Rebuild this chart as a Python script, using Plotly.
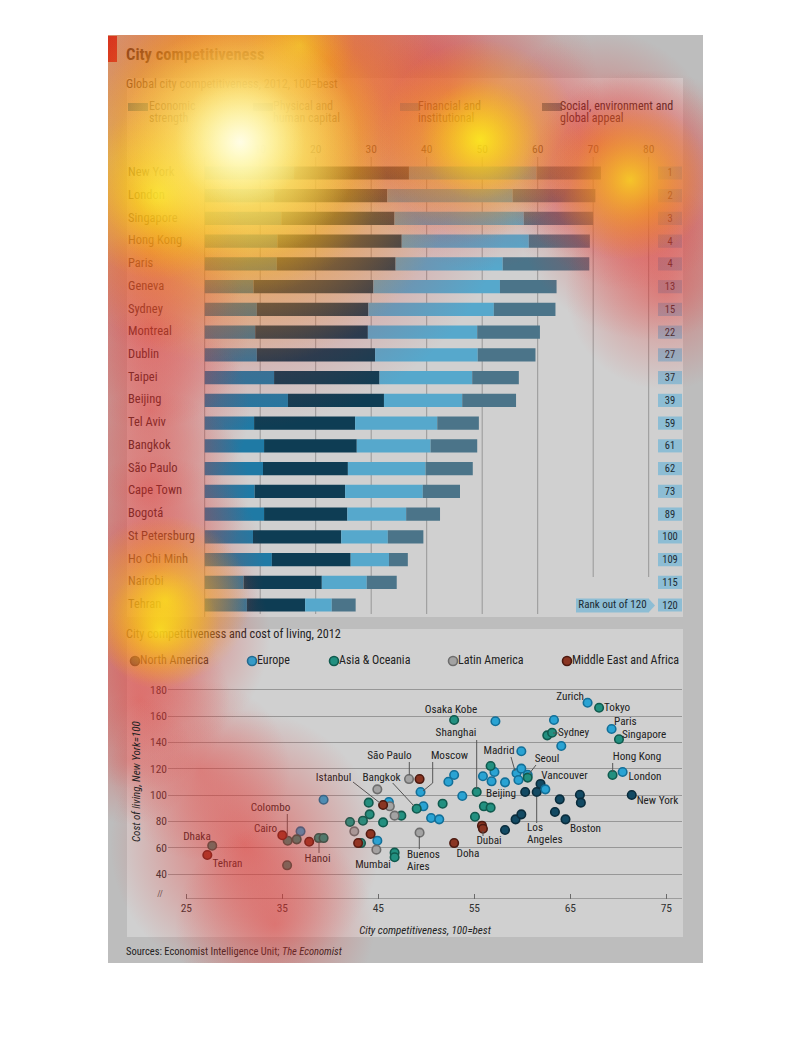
import numpy as np
import plotly.graph_objects as go

W, H = 810, 1058
FONT = "Liberation Sans Narrow, Arial Narrow, Roboto Condensed, Roboto, sans-serif"

# ---------------- bar chart data ----------------
cities = ["New York", "London", "Singapore", "Hong Kong", "Paris", "Geneva", "Sydney",
          "Montreal", "Dublin", "Taipei", "Beijing", "Tel Aviv", "Bangkok", "São Paulo",
          "Cape Town", "Bogotá", "St Petersburg", "Ho Chi Minh", "Nairobi", "Tehran"]
economic = [16.1, 12.5, 13.8, 13.1, 13.0, 8.8, 9.4, 9.1, 9.4, 12.5, 15.0, 8.9, 10.7, 10.5, 9.0, 10.7, 8.7, 12.1, 7.0, 7.6]
physical = [20.7, 20.4, 20.4, 22.4, 21.4, 21.6, 20.1, 20.3, 21.3, 19.0, 17.3, 18.2, 16.7, 15.3, 16.3, 15.0, 15.9, 14.2, 14.1, 10.5]
financial = [23.0, 22.6, 23.3, 22.9, 19.3, 22.8, 22.6, 19.7, 18.5, 16.7, 14.1, 14.8, 13.3, 14.0, 14.0, 10.6, 8.4, 6.9, 8.1, 4.8]
social = [11.6, 14.9, 12.5, 11.0, 15.6, 10.2, 11.1, 11.3, 10.4, 8.4, 9.7, 7.5, 8.4, 8.5, 6.7, 6.1, 6.4, 3.4, 5.4, 4.3]
ranks = [1, 2, 3, 4, 4, 13, 15, 22, 27, 37, 39, 59, 61, 62, 73, 89, 100, 109, 115, 120]
segment_names = ["Economic strength", "Physical and human capital",
                 "Financial and institutional", "Social, environment and global appeal"]
bar_ticks = [10, 20, 30, 40, 50, 60, 70, 80]

# ---------------- scatter data ----------------
na_x = [58.2, 59.3, 59.9, 60.3, 61.5, 61.9, 63.4, 63.9, 64.5, 66.0, 66.1, 71.4]
na_y = [73.4, 81.5, 85.3, 102.3, 102.3, 108.4, 87.1, 96.7, 81.5, 100.2, 94.2, 100.0]
eu_x = [36.9, 39.3, 44.9, 46.1, 49.4, 49.7, 50.5, 51.35, 52.3, 52.9, 53.75, 55.9, 56.8, 57.1, 57.2,
        58.2, 59.4, 59.6, 59.9, 59.9, 60.56, 62.4, 63.3, 64.06, 66.8, 69.3, 70.45]
eu_y = [72.4, 96.4, 65.3, 94.7, 102.3, 91.4, 82.5, 81.5, 110.1, 115.2, 99.2, 114.2, 110.4, 117.5, 156.0,
        109.6, 116.5, 111.4, 120.0, 133.2, 115.4, 104.3, 157.0, 137.2, 170.1, 150.1, 117.5]
as_x = [27.7, 35.56, 35.5, 36.5, 38.8, 39.3, 42.05, 43.2, 43.4, 44.0, 44.1, 45.5, 46.7, 46.7, 47.4,
        49.0, 51.7, 52.9, 55.07, 55.25, 56.0, 56.7, 56.7, 60.56, 62.6, 63.1, 68.0, 69.4, 70.07]
as_y = [61.5, 65.3, 46.6, 66.3, 67.3, 67.3, 79.5, 63.5, 80.5, 94.2, 85.3, 79.2, 56.2, 52.7, 84.3,
        89.6, 93.4, 157.0, 83.5, 102.3, 91.4, 90.4, 122.0, 113.2, 145.3, 147.3, 166.3, 115.2, 142.3]
la_x = [42.5, 44.8, 44.9, 46.2, 46.7, 48.2, 49.3]
la_y = [72.4, 58.5, 104.3, 91.4, 84.3, 112.1, 71.4]
me_x = [27.19, 35.0, 37.8, 42.9, 44.2, 45.5, 49.3, 52.9, 55.8, 55.9]
me_y = [54.4, 69.4, 64.5, 63.5, 70.4, 92.4, 112.1, 63.5, 76.7, 74.4]
region_names = ["North America", "Europe", "Asia & Oceania", "Latin America", "Middle East and Africa"]
sc_xticks = [25, 35, 45, 55, 65, 75]
sc_yticks = [40, 60, 80, 100, 120, 140, 160, 180]

# eye-tracking heat spots (page pixels): x, y, diameter, peak opacity
red_x = [240, 200, 330, 450, 600, 650, 665, 150, 150, 150, 150, 155, 150, 140, 130, 245, 275, 200, 480, 630]
red_y = [150, 55, 60, 95, 145, 205, 290, 250, 330, 410, 490, 565, 635, 700, 760, 845, 925, 770, 140, 180]
red_s = [560, 280, 320, 300, 230, 270, 200, 200, 200, 200, 200, 220, 240, 180, 130, 270, 200, 180, 260, 220]
red_a = [0.95, 0.75, 0.8, 0.75, 0.75, 0.85, 0.6, 0.75, 0.7, 0.7, 0.7, 0.75, 0.85, 0.65, 0.45, 0.85, 0.65, 0.55, 0.6, 0.6]
yel_x = [240, 240, 158, 480, 480, 630, 165, 160, 300]
yel_y = [148, 148, 195, 140, 140, 180, 600, 630, 45]
yel_s = [440, 300, 170, 200, 120, 160, 170, 120, 110]
yel_a = [1.0, 1.0, 0.95, 1.0, 0.8, 1.0, 1.0, 0.95, 0.6]
wht_x = [240, 240]
wht_y = [142, 142]
wht_s = [240, 130]
wht_a = [1.0, 1.0]

# ---------------- styles ----------------
seg_colors = ["#1f7aa5", "#0e3d54", "#56a8cc", "#4b7489"]
reg_fill = ["#134a63", "#2aa3d3", "#229080", "#a3a3a3", "#8a3522"]
reg_line = ["#0a2c3c", "#136f98", "#105a4e", "#6d6d6d", "#4d1a10"]
RANK_COL = "#8dbdd4"
OUTER_BG = "#bdbdbd"
INNER_BG = "#d0d0d0"
GRID = "#979797"

# page frame (px)
PX0, PX1, PY0, PY1 = 108, 703, 35, 963


def fx(p):
    return p / W


def fy(p):
    return 1 - p / H


# bar axis calibration (page px)
BX0, BK = 204.7, 5.55
bx_range = [(108 - BX0) / BK, (703 - BX0) / BK]
# scatter axis calibration
SX25, SK = 186.3, 9.6
SY100, SKY = 795.0, 1.3167
sx_range = [25 + (168 - SX25) / SK, 25 + (682 - SX25) / SK]
sy_range = [100 - (899 - SY100) / SKY, 100 + (SY100 - 680) / SKY]

fig = go.Figure()

# ---------- stacked bars ----------
segs = [economic, physical, financial, social]
base = np.zeros(len(cities))
for name, vals, col in zip(segment_names, segs, seg_colors):
    fig.add_trace(go.Bar(y=cities, x=vals, base=base.copy(), orientation="h", name=name,
                         marker=dict(color=col, line=dict(width=0)), width=0.58,
                         xaxis="x", yaxis="y", hoverinfo="skip"))
    base = base + np.array(vals)

rank_base = (658 - BX0) / BK
rank_w = (682 - 658) / BK
fig.add_trace(go.Bar(y=cities, x=[rank_w] * len(cities), base=rank_base, orientation="h",
                     marker=dict(color=RANK_COL, line=dict(width=0)), width=0.58,
                     text=[str(r) for r in ranks], textposition="inside",
                     insidetextanchor="middle", constraintext="none", textangle=0,
                     textfont=dict(size=10.5, color="#1c2b33", family=FONT),
                     xaxis="x", yaxis="y", hoverinfo="skip"))

# city labels
fig.add_trace(go.Scatter(y=cities, x=[(128 - BX0) / BK] * len(cities), mode="text",
                         text=cities, textposition="middle right",
                         textfont=dict(size=12.5, color="#222222", family=FONT),
                         xaxis="x", yaxis="y", hoverinfo="skip"))

# ---------- scatter ----------
for nm, xs, ys, fc, lc in zip(region_names, [na_x, eu_x, as_x, la_x, me_x],
                              [na_y, eu_y, as_y, la_y, me_y], reg_fill, reg_line):
    fig.add_trace(go.Scatter(x=xs, y=ys, mode="markers", name=nm,
                             marker=dict(size=8.5, color=fc, line=dict(width=1.6, color=lc)),
                             xaxis="x2", yaxis="y2", hoverinfo="skip"))

# ---------- page texts (pixel axes x3/y3) ----------
def ptext(x, y, s, size=12, pos="middle right", color="#222222"):
    fig.add_trace(go.Scatter(x=[x], y=[y], mode="text", text=[s], textposition=pos,
                             textfont=dict(size=size, color=color, family=FONT),
                             xaxis="x3", yaxis="y3", hoverinfo="skip"))


def pline(xs, ys, color="#555555", width=1):
    fig.add_trace(go.Scatter(x=xs, y=ys, mode="lines", line=dict(color=color, width=width),
                             xaxis="x3", yaxis="y3", hoverinfo="skip"))


ptext(126, 56, "<b>City competitiveness</b>", 16.5, color="#141414")
ptext(126, 85, "Global city competitiveness, 2012, 100=best", 12.2)
leg_txt = [("Economic", "strength", 149), ("Physical and", "human capital", 273),
           ("Financial and", "institutional", 418), ("Social, environment and", "global appeal", 560)]
for l1, l2, xx in leg_txt:
    ptext(xx, 107, l1, 12)
    ptext(xx, 119, l2, 12)
ptext(612.5, 605.5, "Rank out of 120", 11, pos="middle center", color="#1c2b33")

ptext(126, 635, "City competitiveness and cost of living, 2012", 12.2)
leg_pos = [135, 252, 334, 453, 567]
fig.add_trace(go.Scatter(x=leg_pos, y=[661] * 5, mode="markers",
                         marker=dict(size=9, color=reg_fill, line=dict(width=1.6, color=reg_line)),
                         xaxis="x3", yaxis="y3", hoverinfo="skip"))
for nm, xx in zip(region_names, leg_pos):
    ptext(xx + 5, 661, nm, 12)

ptext(160, 895, "//", 9, pos="middle center", color="#555555")
ptext(126, 952, "Sources: Economist Intelligence Unit; <i>The Economist</i>", 10.5)
ptext(425, 931, "<i>City competitiveness, 100=best</i>", 11, pos="middle center")

labels = [
    (584, 697, "Zurich", "middle left"), (604, 708, "Tokyo", "middle right"),
    (451, 710, "Osaka Kobe", "middle center"), (456, 733, "Shanghai", "middle center"),
    (614, 722, "Paris", "middle right"), (622, 735, "Singapore", "middle right"),
    (558, 733, "Sydney", "middle right"), (499, 751, "Madrid", "middle center"),
    (547, 759, "Seoul", "middle center"), (564.5, 776, "Vancouver", "middle center"),
    (637, 757, "Hong Kong", "middle center"), (645, 777, "London", "middle center"),
    (501, 794, "Beijing", "middle center"), (657.5, 801, "New York", "middle center"),
    (527, 828, "Los", "middle right"), (527, 840, "Angeles", "middle right"),
    (585.5, 829, "Boston", "middle center"), (489, 841, "Dubai", "middle center"),
    (468, 854, "Doha", "middle center"), (407, 855, "Buenos", "middle right"),
    (407, 867, "Aires", "middle right"), (449.5, 756, "Moscow", "middle center"),
    (389.5, 756, "São Paulo", "middle center"), (381.5, 778, "Bangkok", "middle center"),
    (333.5, 778, "Istanbul", "middle center"), (270.5, 808, "Colombo", "middle center"),
    (265.5, 829, "Cairo", "middle center"), (197, 837, "Dhaka", "middle center"),
    (227.5, 864, "Tehran", "middle center"), (317.5, 859, "Hanoi", "middle center"),
    (373, 865, "Mumbai", "middle center"),
]
for x, y, s, p in labels:
    ptext(x, y, s, 11.2, pos=p)

leaders = [
    ([476.7, 476.7], [740, 789]), ([511, 515], [757, 771]), ([536, 529], [765, 774]),
    ([612.7, 612.7], [763, 772]), ([536.7, 536.7], [797, 823]), ([483, 483], [831, 836]),
    ([419.3, 419.3], [836, 849]), ([432.7, 432.7, 423], [762, 783, 791]),
    ([409.3, 409.3], [762, 775]), ([392.7, 414], [783, 806]), ([353, 380], [782, 803]),
    ([287.3, 287.3], [814, 837]), ([319, 319], [842, 853]), ([553, 559], [733, 733]),
]
for xs, ys in leaders:
    pline(xs, ys)

# ---------- heat overlay (radial: gradient.color is the centre colour) ----------
def heat(xs, ys, ss, alphas, rgb_centre, rgb_edge):
    centres = [f"rgba({rgb_centre},{a})" for a in alphas]
    fig.add_trace(go.Scatter(x=xs, y=ys, mode="markers",
                             marker=dict(size=ss, color=f"rgba({rgb_edge},0)", line=dict(width=0),
                                         gradient=dict(type="radial", color=centres)),
                             xaxis="x3", yaxis="y3", hoverinfo="skip"))


heat(red_x, red_y, red_s, red_a, "228,50,45", "228,50,45")
heat(yel_x, yel_y, yel_s, yel_a, "255,245,25", "255,190,0")
heat(wht_x, wht_y, wht_s, wht_a, "255,255,248", "255,255,170")

# ---------- shapes (backgrounds, grid, swatches) ----------
shapes = [
    dict(type="rect", xref="paper", yref="paper", x0=fx(PX0), x1=fx(PX1), y0=fy(PY1), y1=fy(PY0),
         fillcolor=OUTER_BG, line=dict(width=0), layer="below"),
    dict(type="rect", xref="paper", yref="paper", x0=fx(127), x1=fx(683), y0=fy(617), y1=fy(78),
         fillcolor=INNER_BG, line=dict(width=0), layer="below"),
    dict(type="rect", xref="paper", yref="paper", x0=fx(127), x1=fx(683), y0=fy(937), y1=fy(629),
         fillcolor=INNER_BG, line=dict(width=0), layer="below"),
    dict(type="rect", xref="paper", yref="paper", x0=fx(108), x1=fx(117), y0=fy(62), y1=fy(36),
         fillcolor="#c40a1e", line=dict(width=0), layer="below"),
    dict(type="line", xref="x", yref="paper", x0=0, x1=0, y0=fy(617), y1=fy(157),
         line=dict(color=GRID, width=1), layer="below"),
    dict(type="rect", xref="paper", yref="paper", x0=fx(576), x1=fx(649), y0=fy(612.5), y1=fy(598.5),
         fillcolor=RANK_COL, line=dict(width=0), layer="below"),
    dict(type="path", xref="paper", yref="paper",
         path=f"M {fx(649)},{fy(599)} L {fx(655)},{fy(605.5)} L {fx(649)},{fy(612)} Z",
         fillcolor=RANK_COL, line=dict(width=0), layer="below"),
    dict(type="line", xref="x2", yref="y2", x0=25, x1=sx_range[1], y0=sy_range[0], y1=sy_range[0],
         line=dict(color="#6a6a6a", width=1), layer="below"),
]
for t in bar_ticks:
    bottom = 577 if t >= 70 else 614
    shapes.append(dict(type="line", xref="x", yref="paper", x0=t, x1=t, y0=fy(bottom), y1=fy(157),
                       line=dict(color=GRID, width=1), layer="below"))
for xx, col in zip([128, 253, 400, 542], seg_colors):
    shapes.append(dict(type="rect", xref="paper", yref="paper", x0=fx(xx), x1=fx(xx + 20),
                       y0=fy(111), y1=fy(103), fillcolor=col, line=dict(width=0), layer="below"))

fig.update_layout(
    width=W, height=H, margin=dict(l=0, r=0, t=0, b=0), autosize=False,
    paper_bgcolor="white", plot_bgcolor="rgba(0,0,0,0)", barmode="overlay", showlegend=False,
    font=dict(family=FONT, size=12, color="#222222"), shapes=shapes,
    xaxis=dict(domain=[fx(108), fx(703)], range=bx_range, side="top", tickvals=bar_ticks,
               showgrid=False, zeroline=False, showline=False, ticks="", ticklabelstandoff=5,
               tickfont=dict(size=11.5, color="#333333"), anchor="y", fixedrange=True),
    yaxis=dict(domain=[fy(616.4), fy(161.6)], type="category", categoryorder="array",
               categoryarray=cities, range=[19.5, -0.5], showticklabels=False, showgrid=False,
               zeroline=False, anchor="x", fixedrange=True),
    xaxis2=dict(domain=[fx(168), fx(682)], range=sx_range, tickvals=sc_xticks, ticks="inside",
                ticklen=5, tickcolor="#6a6a6a", showgrid=False, zeroline=False, showline=False,
                tickfont=dict(size=11.5, color="#333333"), anchor="y2", fixedrange=True),
    yaxis2=dict(domain=[fy(899), fy(680)], range=sy_range, tickvals=sc_yticks, ticks="",
                showgrid=True, gridcolor=GRID, gridwidth=1, zeroline=False, showline=False,
                tickfont=dict(size=11.5, color="#333333"), anchor="x2", fixedrange=True),
    # overlay axes in page pixels, limited to the graphic's frame
    xaxis3=dict(domain=[fx(PX0), fx(PX1)], range=[PX0, PX1], visible=False, anchor="y3",
                fixedrange=True),
    yaxis3=dict(domain=[fy(PY1), fy(PY0)], range=[PY1, PY0], visible=False, anchor="x3",
                fixedrange=True),
    annotations=[dict(x=fx(136), y=fy(782), xref="paper", yref="paper", showarrow=False,
                      xanchor="center", yanchor="middle",
                      text="<i>Cost of living, New York=100</i>", textangle=-90,
                      font=dict(size=11, color="#222222", family=FONT))],
)

fig.write_html("out.html", config={"displayModeBar": False},
               post_script="document.body.style.margin='0';")
